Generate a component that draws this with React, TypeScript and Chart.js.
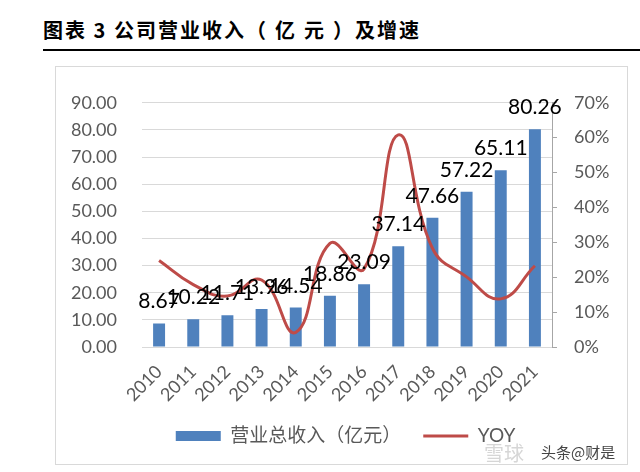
import React, { useEffect, useRef } from "react";
import { Chart, registerables } from "chart.js";

Chart.register(...registerables);

const categories = ["2010", "2011", "2012", "2013", "2014", "2015", "2016", "2017", "2018", "2019", "2020", "2021"];
const revenue = [8.67, 10.22, 11.71, 13.96, 14.54, 18.86, 23.09, 37.14, 47.66, 57.22, 65.11, 80.26];
const yoy = [24.8, 17.9, 14.6, 19.2, 4.2, 29.7, 22.4, 60.8, 28.3, 20.1, 13.8, 23.3];
const revenueLabel = "营业总收入（亿元）";
const yoyLabel = "YOY";
const titleHead = "图表 3 公司营业收入";
const titleUnit = "（亿元";
const titleTail = "）及增速";

const BAR_COLOR = "#4F81BD";
const LINE_COLOR = "#BE4B48";
const TICK_COLOR = "#595959";
const FONT = "Lato, 'Noto Sans CJK SC', sans-serif";

const dataLabelPlugin = {
  id: "barValueLabels",
  afterDatasetsDraw(chart: any) {
    const meta = chart.getDatasetMeta(0);
    const ctx = chart.ctx;
    ctx.save();
    ctx.font = `21px ${FONT}`;
    ctx.fillStyle = "#000";
    ctx.textAlign = "center";
    ctx.textBaseline = "alphabetic";
    meta.data.forEach((el: any, i: number) => {
      ctx.fillText(revenue[i].toFixed(2), el.x, el.y - 15);
    });
    ctx.restore();
  },
};

export default function App() {
  const ref = useRef<HTMLCanvasElement>(null);
  useEffect(() => {
    if (!ref.current) return;
    const chart = new Chart(ref.current, {
      type: "bar",
      data: {
        labels: categories,
        datasets: [
          {
            type: "bar",
            label: revenueLabel,
            data: revenue,
            backgroundColor: BAR_COLOR,
            borderWidth: 0,
            barPercentage: 0.35,
            categoryPercentage: 1,
            yAxisID: "y",
            order: 1,
            pointStyle: "rect",
          } as any,
          {
            type: "line",
            label: yoyLabel,
            data: yoy,
            borderColor: LINE_COLOR,
            backgroundColor: LINE_COLOR,
            borderWidth: 3,
            pointRadius: 0,
            tension: 0.45,
            yAxisID: "y1",
            order: 0,
            pointStyle: "line",
          } as any,
        ],
      },
      options: {
        responsive: false,
        animation: false,
        layout: { padding: { left: 8, right: 0, top: 25, bottom: 8.5 } },
        plugins: {
          tooltip: { enabled: false },
          legend: {
            position: "bottom",
            labels: {
              usePointStyle: true,
              pointStyleWidth: 45,
              boxWidth: 45,
              boxHeight: 10,
              padding: 22,
              color: TICK_COLOR,
              font: { size: 19, family: FONT },
              sort: (a: any, b: any) => a.datasetIndex - b.datasetIndex,
            },
          },
        },
        scales: {
          x: {
            grid: { display: false },
            border: { display: false },
            ticks: {
              color: TICK_COLOR,
              font: { size: 18, family: FONT },
              autoSkip: false,
              minRotation: 45,
              maxRotation: 45,
              padding: 6,
            },
            afterFit: (s: any) => {
              s.height = 57.5;
            },
          },
          y: {
            position: "left",
            min: 0,
            max: 90,
            ticks: {
              stepSize: 10,
              color: TICK_COLOR,
              font: { size: 18, family: FONT },
              padding: 25,
              callback: (v: any) => Number(v).toFixed(2),
            },
            grid: { color: "#D9D9D9", drawTicks: false, lineWidth: 1 },
            border: { display: false },
            afterFit: (s: any) => {
              s.width = 78;
            },
          },
          y1: {
            position: "right",
            min: 0,
            max: 70,
            ticks: {
              stepSize: 10,
              color: TICK_COLOR,
              font: { size: 18, family: FONT },
              padding: 17,
              callback: (v: any) => `${v}%`,
            },
            grid: { drawOnChartArea: false, drawTicks: true, tickLength: 5, color: "#A6A6A6" },
            border: { display: true, color: "#A6A6A6" },
            afterFit: (s: any) => {
              s.width = 75;
            },
          },
        },
      } as any,
      plugins: [dataLabelPlugin],
    });
    return () => chart.destroy();
  }, []);

  return (
    <div
      style={{
        position: "fixed",
        left: 0,
        top: 0,
        width: 640,
        height: 472,
        background: "#fff",
        overflow: "hidden",
      }}
    >
      <div
        style={{
          position: "absolute",
          left: 43,
          top: 20,
          fontFamily: "'Noto Sans CJK SC', sans-serif",
          fontWeight: 700,
          fontSize: 20,
          lineHeight: "20px",
          letterSpacing: 2,
          color: "#000",
          whiteSpace: "pre",
        }}
      >
        {titleHead}
        <span style={{ letterSpacing: 9 }}>{titleUnit}</span>
        {titleTail}
      </div>
      <div style={{ position: "absolute", left: 43, top: 49, width: 597, height: 2, background: "#000" }} />
      <div
        style={{
          position: "absolute",
          left: 55,
          top: 66,
          width: 573,
          height: 399,
          border: "1px solid #D9D9D9",
          boxSizing: "border-box",
        }}
      />
      <canvas
        ref={ref}
        width={571}
        height={397}
        style={{ position: "absolute", left: 56, top: 67, width: 571, height: 397 }}
      />
      <div
        style={{
          position: "absolute",
          left: 484,
          top: 443,
          fontFamily: "'Noto Sans CJK SC', sans-serif",
          fontSize: 20,
          color: "#D6D6D6",
          lineHeight: "20px",
        }}
      >
        雪球
      </div>
      <div
        style={{
          position: "absolute",
          left: 541,
          top: 444,
          fontFamily: "'Noto Sans CJK SC', sans-serif",
          fontSize: 15,
          color: "#444",
          lineHeight: "16px",
        }}
      >
        头条@财是
      </div>
    </div>
  );
}
